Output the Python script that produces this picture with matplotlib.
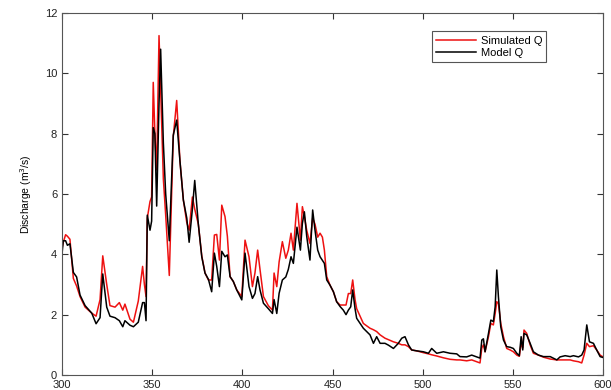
import matplotlib
matplotlib.use("Agg")
import matplotlib.pyplot as plt

plt.rcParams["font.family"] = ["Liberation Sans", "DejaVu Sans"]

# day index, simulated discharge (red), model discharge (black)
day = [300.0, 300.7, 302.0, 303.0, 304.4, 306.3, 308.1, 310.0, 312.8, 316.5,
       318.9, 321.1, 322.6, 324.8, 326.6, 329.4, 331.8, 333.7, 334.9, 337.7,
       339.6, 342.3, 344.7, 345.7, 346.6, 347.3, 348.8, 349.7, 350.6, 351.5,
       352.5, 353.8, 354.7, 356.2, 357.5, 359.5, 361.7, 363.6, 365.4, 367.3,
       369.2, 370.5, 372.3, 373.6, 375.6, 377.5, 379.3, 381.2, 383.0, 384.5,
       385.8, 387.3, 388.6, 390.4, 391.7, 393.2, 395.0, 396.9, 399.7, 401.5,
       403.7, 405.6, 407.0, 408.5, 409.8, 411.7, 414.4, 416.7, 417.6, 419.1,
       420.4, 422.2, 424.1, 425.5, 427.0, 428.3, 430.3, 432.2, 433.3, 434.4,
       435.7, 437.5, 439.0, 440.3, 441.8, 443.1, 444.4, 445.5, 446.8, 448.6,
       450.5, 452.3, 454.2, 456.0, 457.5, 458.8, 460.1, 461.2, 462.5, 463.4,
       467.1, 470.8, 472.7, 474.5, 476.4, 479.1, 481.0, 483.8, 486.5, 488.4,
       490.2, 492.1, 493.9, 496.7, 500.4, 503.2, 505.0, 507.8, 511.5, 515.2,
       518.9, 520.7, 524.4, 527.2, 530.0, 531.8, 532.8, 533.7, 534.6, 536.5,
       537.8, 539.2, 540.2, 541.1, 542.0, 543.3, 544.8, 546.6, 548.5, 550.3,
       552.2, 553.6, 554.6, 555.5, 556.2, 557.7, 559.6, 561.4, 564.2, 567.0,
       570.7, 574.4, 576.2, 579.0, 581.8, 583.6, 586.4, 588.2, 589.5, 591.0,
       592.5, 594.7, 596.5, 598.4, 600.0]

simulated_q = [4.2, 4.4, 4.65, 4.6, 4.5, 3.2, 2.95, 2.6, 2.25, 2.05,
               1.95, 2.5, 3.95, 3.0, 2.3, 2.25, 2.4, 2.15, 2.35, 1.85,
               1.75, 2.45, 3.6, 3.0, 2.6, 5.2, 5.75, 5.9, 9.7, 8.0,
               6.8, 11.25, 9.5, 6.5, 5.3, 3.3, 7.9, 9.1, 7.1, 5.8,
               5.05, 4.8, 5.9, 5.5, 5.0, 3.95, 3.38, 3.15, 3.15, 4.64,
               4.66, 3.81, 5.63, 5.25, 4.6, 3.26, 3.1, 2.82, 2.6, 4.47,
               3.92, 2.93, 3.38, 4.14, 3.5, 2.6, 2.3, 2.15, 3.38, 2.93,
               3.75, 4.42, 3.87, 4.14, 4.7, 4.14, 5.69, 4.47, 5.58, 5.25,
               4.8, 4.36, 5.2, 5.0, 4.57, 4.7, 4.57, 4.14, 3.26, 2.98,
               2.76, 2.43, 2.32, 2.32, 2.32, 2.7, 2.7, 3.15, 2.5, 2.2,
               1.71, 1.55, 1.5, 1.44, 1.33, 1.22, 1.17, 1.1, 1.05, 1.0,
               1.0, 0.94, 0.83, 0.8, 0.74, 0.7, 0.67, 0.63, 0.57, 0.52,
               0.5, 0.5, 0.47, 0.5, 0.44, 0.4, 0.9, 1.0, 0.77, 1.27,
               1.71, 1.66, 2.04, 2.43, 2.37, 1.71, 1.27, 0.88, 0.83, 0.77,
               0.66, 0.62, 1.05, 0.9, 1.49, 1.38, 1.0, 0.72, 0.66, 0.59,
               0.53, 0.5, 0.5, 0.5, 0.5, 0.47, 0.44, 0.4, 0.66, 1.05,
               0.94, 0.97, 0.83, 0.66, 0.6]

model_q = [4.0, 4.45, 4.45, 4.3, 4.35, 3.4, 3.25, 2.65, 2.3, 2.05,
           1.7, 1.9, 3.35, 2.25, 1.95, 1.9, 1.8, 1.6, 1.8, 1.65,
           1.6, 1.75, 2.4, 2.4, 1.8, 5.3, 4.8, 5.1, 8.2, 8.0,
           5.6, 9.0, 10.8, 7.7, 6.0, 4.45, 7.95, 8.45, 7.1, 5.8,
           5.2, 4.4, 5.5, 6.45, 5.0, 3.92, 3.38, 3.17, 2.76, 4.04,
           3.6, 2.93, 4.1, 3.92, 3.98, 3.26, 3.1, 2.82, 2.49, 4.04,
           2.93, 2.54, 2.7, 3.26, 2.82, 2.38, 2.2, 2.04, 2.5, 2.04,
           2.71, 3.15, 3.25, 3.5, 3.92, 3.7, 4.9, 4.14, 5.03, 5.41,
           4.6, 3.81, 5.47, 4.8, 4.14, 3.92, 3.8, 3.7, 3.15, 2.98,
           2.76, 2.43, 2.27, 2.15, 2.0, 2.15, 2.26, 2.82, 2.2, 1.88,
           1.55, 1.33, 1.05, 1.27, 1.05, 1.05, 0.99, 0.88, 1.05, 1.22,
           1.27, 1.0, 0.83, 0.8, 0.77, 0.72, 0.88, 0.72, 0.77, 0.72,
           0.7, 0.61, 0.6, 0.66, 0.6, 0.56, 1.16, 1.2, 0.77, 1.38,
           1.82, 1.77, 2.26, 3.48, 2.6, 1.6, 1.16, 0.94, 0.92, 0.88,
           0.72, 0.64, 1.27, 0.83, 1.38, 1.33, 1.05, 0.77, 0.66, 0.61,
           0.61, 0.5, 0.6, 0.64, 0.61, 0.64, 0.6, 0.66, 0.83, 1.66,
           1.1, 1.05, 0.83, 0.61, 0.58]

xticks = [300, 350, 400, 450, 500, 550, 600]
yticks = [0, 2, 4, 6, 8, 10, 12]

fig = plt.figure(figsize=(6.11, 3.90), dpi=100)
ax = fig.add_axes([62 / 611, 15 / 390, 541 / 611, 362 / 390])

ax.plot(day, simulated_q, color="#ee1111", lw=1.1, label="Simulated Q")
ax.plot(day, model_q, color="black", lw=1.1, label="Model Q")

ax.set_xlim(300, 600)
ax.set_ylim(0, 12)
ax.set_xticks(xticks)
ax.set_yticks(yticks)
ax.tick_params(direction="in", top=True, right=True, labelsize=8,
               length=4, width=0.8, colors="#333333", labelcolor="#222222")
for sp in ax.spines.values():
    sp.set_color("#555555")
    sp.set_linewidth(0.8)

ax.set_ylabel("Discharge (m$^3$/s)", fontsize=7.5, labelpad=8)

leg = ax.legend(loc="upper left", bbox_to_anchor=(0.673, 0.965),
                fontsize=8, handlelength=3.6, fancybox=False,
                framealpha=1, edgecolor="#555555", borderpad=0.4,
                labelspacing=0.2, handletextpad=0.4)
leg.get_frame().set_linewidth(0.8)

fig.savefig("out.png", dpi=100)
